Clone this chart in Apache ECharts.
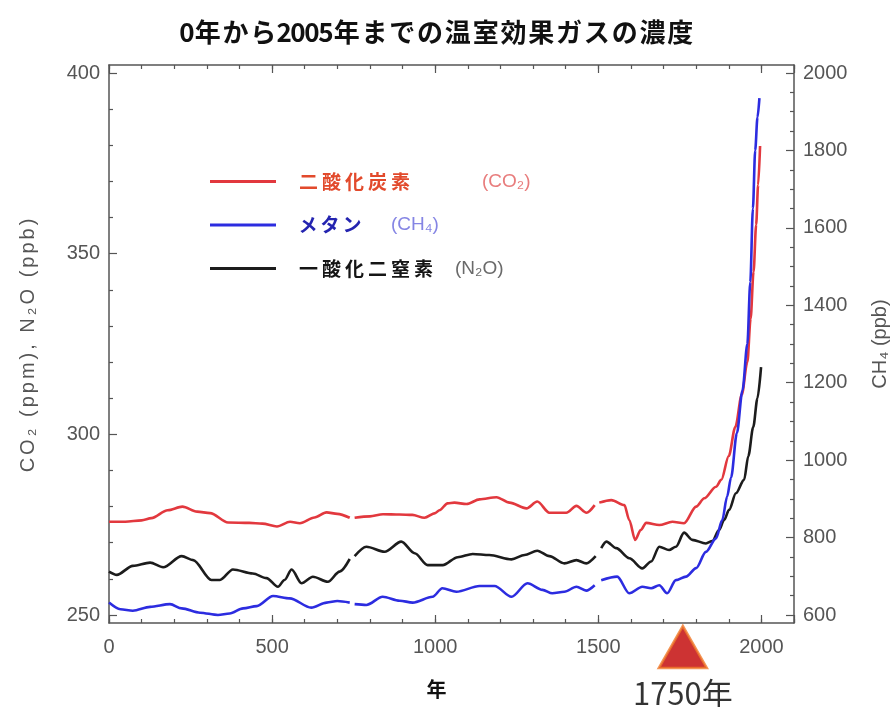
<!DOCTYPE html>
<html><head><meta charset="utf-8">
<script src="https://cdn.jsdelivr.net/npm/echarts@6/dist/echarts.min.js"></script>
<style>html,body{margin:0;padding:0;background:#fff}#c{width:895px;height:707px}</style>
</head><body><div id="c"></div>
<script>
// ---------- data ----------
const titleText = '0年から2005年までの温室効果ガスの濃度';
const seriesNames = ['二酸化炭素', 'メタン', '一酸化二窒素'];
const seriesFormulas = ['(CO₂)', '(CH₄)', '(N₂O)'];
const xAxisName = '年';
const leftAxisName = 'CO₂ (ppm), N₂O (ppb)';
const rightAxisName = 'CH₄ (ppb)';
const markerYear = 1750;
const markerLabel = '1750年';

// CO2 (ppm), [year, value]; '-' = gap
const co2 = [[0,275.8],[50,275.8],[100,276.2],[130,276.8],[180,279.0],[225,280.0],[270,278.6],[310,278.2],[365,275.6],[430,275.5],[470,275.3],[515,274.5],[555,275.8],[585,275.4],[630,277.0],[667,278.4],[700,278.0],[738,276.9],[746,'-'],[753,276.9],[800,277.3],[840,277.9],[890,277.8],[930,277.7],[967,276.9],[1000,278.2],[1013,279.0],[1038,280.9],[1059,281.1],[1096,280.7],[1136,282.0],[1188,282.6],[1228,281.1],[1280,279.5],[1313,281.4],[1350,278.3],[1402,278.3],[1433,280.2],[1464,278.3],[1489,280.4],[1496,'-'],[1503,281.1],[1540,281.8],[1580,280.4],[1595,276.3],[1613,270.8],[1630,273.5],[1647,275.5],[1687,274.9],[1727,275.8],[1763,275.4],[1800,280.0],[1825,282.3],[1861,285.5],[1877,287.4],[1900,294],[1920,302],[1940,311],[1957,320],[1967,332],[1976,345],[1984,358],[1990,369],[1996,379.8]];
// CH4 (ppb)
const ch4 = [[0,632],[35,615],[73,611],[126,621],[187,628],[223,617],[279,606],[334,600],[370,604],[411,617],[453,623],[503,649],[554,643],[620,619],[667,632],[700,636],[738,632],[746,'-'],[753,628],[789,626],[839,647],[891,637],[931,632],[992,647],[1022,669],[1065,660],[1136,675],[1182,675],[1234,647],[1283,682],[1329,665],[1359,656],[1396,660],[1433,673],[1463,663],[1489,677],[1496,'-'],[1509,690],[1558,699],[1595,656],[1635,673],[1662,669],[1687,677],[1711,656],[1738,690],[1769,699],[1800,721],[1830,763],[1861,798],[1880,845],[1895,906],[1907,955],[1925,1070],[1942,1180],[1957,1300],[1966,1460],[1974,1650],[1981,1800],[1988,1885],[1994,1935]];
// N2O (ppb)
const n2o = [[0,262.0],[24,261.1],[73,263.6],[126,264.5],[166,263.2],[223,266.3],[258,265.2],[314,259.7],[340,259.7],[380,262.6],[441,261.5],[483,260.2],[518,257.8],[538,259.7],[560,262.6],[590,258.8],[625,260.6],[671,259.2],[707,262.0],[738,265.5],[746,'-'],[753,266.3],[789,268.9],[845,267.5],[896,270.3],[937,267.1],[977,263.8],[1023,263.8],[1069,266.0],[1115,266.9],[1166,266.6],[1234,265.4],[1274,266.6],[1313,267.8],[1350,266.3],[1396,264.3],[1433,265.2],[1463,264.3],[1492,266.3],[1500,'-'],[1509,268.5],[1525,270.3],[1555,268.5],[1595,265.7],[1635,262.9],[1662,264.8],[1687,268.9],[1717,268.0],[1738,268.9],[1763,272.8],[1788,270.8],[1830,269.8],[1850,270.5],[1870,273.5],[1886,276.3],[1901,279.1],[1922,283.7],[1947,287.4],[1960,294],[1975,302],[1988,310],[1999,318.6]];

// ---------- helpers ----------
function spaced(str, wide, narrow) {
  return str.split('').map(ch => (/[0-9A-Za-z]/.test(ch) ? '{' + narrow + '|' + ch + '}' : '{' + wide + '|' + ch + '}')).join('');
}
function tracked(str, style) {
  return str.split('').map(ch => '{' + style + '|' + (ch === ' ' ? '\u00a0' : ch) + '}').join('');
}
const JP = '"Noto Sans CJK JP", sans-serif';
const LAT = '"Liberation Sans", Arial, "DejaVu Sans", sans-serif';
const axisGray = '#555';
const colors = ['#e2383e', '#2c2ce0', '#1c1c1c'];

const legendRich = {
  sp: { width: 16, fontSize: 19, lineHeight: 20 },
  r: { fontFamily: JP, fontWeight: 'bold', fontSize: 19, color: '#e24a2c', width: 23, align: 'center', lineHeight: 20 },
  b: { fontFamily: JP, fontWeight: 'bold', fontSize: 19, color: '#2424b0', width: 22, align: 'center', lineHeight: 20 },
  k: { fontFamily: JP, fontWeight: 'bold', fontSize: 19, color: '#151515', width: 23, align: 'center', lineHeight: 20 },
  g0: { width: 70, lineHeight: 20 }, g1: { width: 28, lineHeight: 20 }, g2: { width: 20, lineHeight: 20 },
  pr: { fontFamily: LAT, fontSize: 19, color: '#e87c7c', lineHeight: 20 },
  pb: { fontFamily: LAT, fontSize: 19, color: '#8585e4', lineHeight: 20 },
  pk: { fontFamily: LAT, fontSize: 19, color: '#6a6a6a', lineHeight: 20 }
};
const legendStyles = [['r', 'pr', 'g0'], ['b', 'pb', 'g1'], ['k', 'pk', 'g2']];

const chart = echarts.init(document.getElementById('c'), null, { renderer: 'canvas' });
const gridFrame = { left: 109, right: 101, top: 65, bottom: 84, outerBoundsMode: 'none', containLabel: false };
const gridTicks = { left: 109, right: 101, top: 73, bottom: 92, outerBoundsMode: 'none', containLabel: false };

const lineAxis = { show: true, onZero: false, lineStyle: { color: axisGray, width: 1.5 } };
const noLine = { show: false, onZero: false };
const noSplit = { show: false };
const tickStyle = { color: axisGray, width: 1.2 };
const nameRich = { n: { fontSize: 20, color: axisGray, fontFamily: LAT, padding: [0, 3, 0, 0] } };

const option = {
  backgroundColor: '#fff',
  animation: false,
  title: {
    text: spaced(titleText, 't', 'td'),
    left: 432, top: 12, textAlign: 'center',
    textStyle: {
      rich: {
        t: { fontFamily: JP, fontWeight: 'bold', fontSize: 26, width: 27.8, align: 'center', color: '#111', lineHeight: 30 },
        td: { fontFamily: JP, fontWeight: 'bold', fontSize: 26, width: 13.9, align: 'center', color: '#111', lineHeight: 30 }
      }
    }
  },
  legend: {
    orient: 'vertical', left: 205, top: 167, itemWidth: 66, itemHeight: 3, itemGap: 24.5,
    icon: 'rect',
    data: seriesNames,
    formatter: function (name) {
      const i = seriesNames.indexOf(name);
      const s = legendStyles[i];
      return '{sp| }' + spaced(name, s[0], s[0]) + '{' + s[2] + '| }{' + s[1] + '|' + seriesFormulas[i] + '}';
    },
    textStyle: { rich: legendRich },
    selectedMode: false
  },
  grid: [gridFrame, gridTicks, Object.assign({}, gridFrame)],
  xAxis: [
    { gridIndex: 0, type: 'value', position: 'bottom', min: 0, max: 2100, interval: 100,
      axisLine: lineAxis, axisTick: { inside: true, length: 4, lineStyle: tickStyle },
      axisLabel: { margin: 14, fontSize: 20, color: axisGray, fontFamily: LAT,
        formatter: v => (v % 500 === 0 && v <= 2000 ? String(v) : '') },
      splitLine: noSplit,
      name: xAxisName, nameLocation: 'middle', nameGap: 56,
      nameTextStyle: { fontFamily: JP, fontWeight: 'bold', fontSize: 20, color: '#111', padding: [0, 30, 0, 0] } },
    { gridIndex: 0, type: 'value', position: 'top', min: 0, max: 2100, interval: 100,
      axisLine: lineAxis, axisTick: { inside: true, length: 4, lineStyle: tickStyle },
      axisLabel: { show: false }, splitLine: noSplit },
    { gridIndex: 2, type: 'value', position: 'bottom', min: 0, max: 2100, interval: 500,
      axisLine: noLine, axisTick: { inside: true, length: 8, lineStyle: tickStyle },
      axisLabel: { show: false }, splitLine: noSplit },
    { gridIndex: 2, type: 'value', position: 'top', min: 0, max: 2100, interval: 500,
      axisLine: noLine, axisTick: { inside: true, length: 8, lineStyle: tickStyle },
      axisLabel: { show: false }, splitLine: noSplit },
    { gridIndex: 1, type: 'value', position: 'bottom', min: 0, max: 2100,
      axisLine: noLine, axisTick: { show: false }, axisLabel: { show: false }, splitLine: noSplit }
  ],
  yAxis: [
    { gridIndex: 0, type: 'value', position: 'left', min: 0, max: 1, axisLine: lineAxis,
      axisTick: { show: false }, axisLabel: { show: false }, splitLine: noSplit },
    { gridIndex: 0, type: 'value', position: 'right', min: 0, max: 1, axisLine: lineAxis,
      axisTick: { show: false }, axisLabel: { show: false }, splitLine: noSplit },
    { gridIndex: 1, type: 'value', position: 'left', min: 250, max: 400, interval: 50,
      axisLine: noLine,
      axisTick: { inside: true, length: 8, lineStyle: tickStyle },
      minorTick: { show: true, splitNumber: 5, length: 4, lineStyle: tickStyle },
      axisLabel: { margin: 9, fontSize: 20, color: axisGray, fontFamily: LAT, formatter: v => String(v) },
      splitLine: noSplit, minorSplitLine: { show: false },
      name: tracked(leftAxisName, 'n'), nameLocation: 'middle', nameGap: 71, nameRotate: 90,
      nameTextStyle: { rich: nameRich } },
    { gridIndex: 1, type: 'value', position: 'right', min: 600, max: 2000, interval: 200,
      axisLine: noLine,
      axisTick: { inside: true, length: 8, lineStyle: tickStyle },
      minorTick: { show: true, splitNumber: 4, length: 4, lineStyle: tickStyle },
      axisLabel: { margin: 9, fontSize: 20, color: axisGray, fontFamily: LAT, formatter: v => String(v) },
      splitLine: noSplit, minorSplitLine: { show: false },
      name: rightAxisName, nameLocation: 'middle', nameGap: 76, nameRotate: 90,
      nameTextStyle: { fontSize: 20, color: axisGray, fontFamily: LAT } },
    { gridIndex: 2, type: 'value', min: 0, max: 1, show: false, axisLine: noLine, splitLine: noSplit }
  ],
  series: [
    { name: seriesNames[2], type: 'line', xAxisIndex: 4, yAxisIndex: 2, data: n2o, symbol: 'none',
      smooth: 0.3, smoothMonotone: 'x', connectNulls: false, clip: false,
      lineStyle: { color: colors[2], width: 2.6 }, itemStyle: { color: colors[2] }, z: 3 },
    { name: seriesNames[0], type: 'line', xAxisIndex: 4, yAxisIndex: 2, data: co2, symbol: 'none',
      smooth: 0.3, smoothMonotone: 'x', connectNulls: false, clip: false,
      lineStyle: { color: colors[0], width: 2.6 }, itemStyle: { color: colors[0] }, z: 4 },
    { name: seriesNames[1], type: 'line', xAxisIndex: 4, yAxisIndex: 3, data: ch4, symbol: 'none',
      smooth: 0.3, smoothMonotone: 'x', connectNulls: false, clip: false,
      lineStyle: { color: colors[1], width: 2.6 }, itemStyle: { color: colors[1] }, z: 5 },
    { name: 'marker', type: 'scatter', xAxisIndex: 4, yAxisIndex: 2, clip: false,
      data: [[markerYear, 250]], symbol: 'triangle', symbolSize: [48, 42], symbolOffset: [3, 32],
      itemStyle: { color: '#c00000', borderColor: '#f07a2a', borderWidth: 2.5 },
      label: { show: true, position: 'bottom', distance: 9, formatter: markerLabel,
        fontSize: 31, color: '#000', fontFamily: JP },
      silent: true, z: 6 }
  ]
};
chart.setOption(option);
</script></body></html>
